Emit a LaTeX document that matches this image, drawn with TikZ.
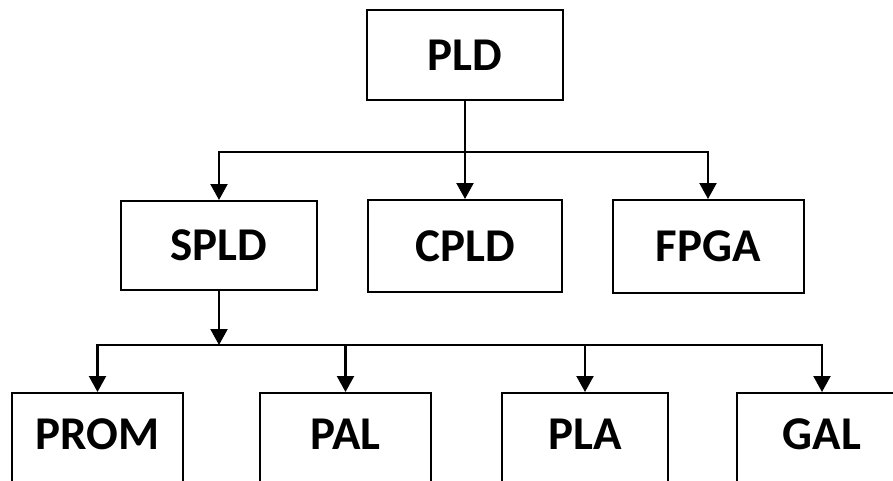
\documentclass[tikz,border=0pt]{standalone}
\usepackage{fontspec}
\setmainfont{Carlito}
\usetikzlibrary{arrows.meta}
\tikzset{
	blk/.style={draw,line width=2pt,minimum height=90,inner sep=0pt,font=\fontsize{47}{52}\selectfont\bfseries},
	bus/.style={line width=2.2pt,line cap=rect},
	arr/.style={line width=2.2pt,-{Triangle[width=17pt,length=16pt]}}
}
\begin{document}
\begin{tikzpicture}[x=1pt,y=-1pt]
	\clip (0,0) rectangle (893,481);
	\fill[white] (0,0) rectangle (893,481);
	% top level
	\node[blk,minimum width=196] (pld) at (465,55) {PLD};
	% second row
	\node[blk,minimum width=196,minimum height=89] (spld) at (219,245.5) {SPLD};
	\node[blk,minimum width=194,minimum height=92] (cpld) at (465,246) {CPLD};
	\node[blk,minimum width=191,minimum height=93] (fpga) at (708,246.5) {FPGA};
	% third row (cut off at the bottom)
	\node[blk,minimum width=171,text depth=8] (prom) at (97.5,438) {PROM};
	\node[blk,minimum width=171,text depth=8] (pal) at (345.5,438) {PAL};
	\node[blk,minimum width=166,text depth=8] (pla) at (585,438) {PLA};
	\node[blk,minimum width=170,text depth=8] (gal) at (822,438) {GAL};
	\coordinate (topbus) at (465,152);
	\coordinate (lowbus) at (219,345);
	%
	\draw[arr] (pld) -- (cpld);
	\draw[bus] (spld.north |- topbus) -- (fpga.north |- topbus);
	\foreach \n in {spld,fpga}
		\draw[arr] (\n.north |- topbus) -- (\n);
	%
	\draw[arr] (spld) -- (lowbus);
	\draw[bus] (prom.north |- lowbus) -- (gal.north |- lowbus);
	\foreach \n in {prom,pal,pla,gal}
		\draw[arr] (\n.north |- lowbus) -- (\n);
\end{tikzpicture}
\end{document}
